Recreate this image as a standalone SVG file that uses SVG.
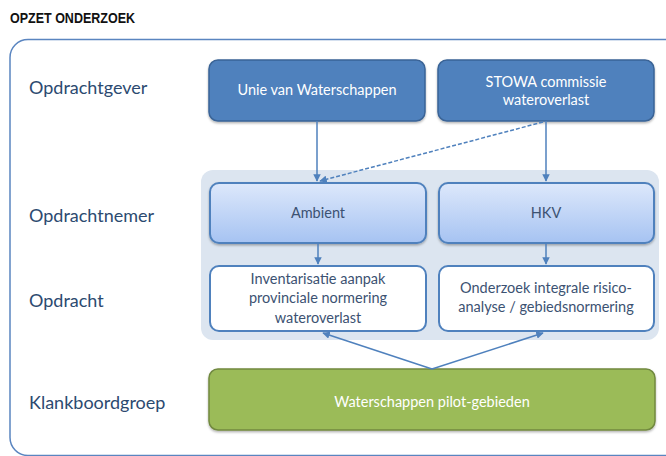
<svg xmlns="http://www.w3.org/2000/svg" width="666" height="456" viewBox="0 0 666 456">
<defs>
<style>
.lbl{font-family:"Lato","Open Sans","Liberation Sans",sans-serif;font-size:18px;fill:#2c4a70}
.wt{font-family:"Lato","Open Sans","Liberation Sans",sans-serif;font-size:14.5px;fill:#ffffff;text-anchor:middle}
.dt{font-family:"Lato","Open Sans","Liberation Sans",sans-serif;font-size:14.5px;fill:#3c5272;text-anchor:middle}
.blue{fill:#4f81bd;stroke:#3a6496;stroke-width:1.5}
.nemer{fill:url(#gradNemer);stroke:#4f81bd;stroke-width:2}
.opd{fill:#ffffff;stroke:#4f81bd;stroke-width:2}
.green{fill:#9bbb59;stroke:#71893f;stroke-width:1.5}
.con{stroke:#4f81bd;stroke-width:1.5;fill:none}
</style>
<linearGradient id="gradNemer" x1="0" y1="0" x2="0" y2="1">
<stop offset="0" stop-color="#dde8fb"/>
<stop offset="1" stop-color="#a6c3f2"/>
</linearGradient>
<filter id="sh" x="-5%" y="-10%" width="110%" height="130%">
<feDropShadow dx="0" dy="1.5" stdDeviation="1.2" flood-color="#000" flood-opacity="0.3"/>
</filter>
<marker id="arr" viewBox="0 0 10 10" refX="9" refY="5" markerWidth="5" markerHeight="5" orient="auto">
<path d="M0,0 L10,5 L0,10 z" fill="#4f81bd"/>
</marker>
</defs>
<rect width="666" height="456" fill="#ffffff"/>
<text x="10" y="22.5" font-family="'Liberation Sans',sans-serif" font-weight="bold" font-size="14" fill="#111" textLength="125" lengthAdjust="spacingAndGlyphs">OPZET ONDERZOEK</text>
<rect id="frame" x="10" y="39.5" width="720" height="416" rx="18" fill="none" stroke="#5a85c0" stroke-width="1.5"/>
<g id="labels">
<text class="lbl" x="29" y="94">Opdrachtgever</text>
<text class="lbl" x="29" y="222">Opdrachtnemer</text>
<text class="lbl" x="29" y="307">Opdracht</text>
<text class="lbl" x="29" y="409">Klankboordgroep</text>
</g>
<rect id="panel" x="201" y="170" width="458" height="170" rx="12" fill="#dce5f0"/>
<g id="unie">
<rect class="blue" filter="url(#sh)" x="209" y="60" width="216" height="61" rx="9"/>
<text class="wt" x="317" y="95">Unie van Waterschappen</text>
</g>
<g id="stowa">
<rect class="blue" filter="url(#sh)" x="438" y="60" width="216" height="61" rx="9"/>
<text class="wt" x="546" y="87">STOWA commissie</text>
<text class="wt" x="546" y="105">wateroverlast</text>
</g>
<g id="ambient">
<rect class="nemer" filter="url(#sh)" x="210" y="183" width="216" height="60" rx="9"/>
<text class="dt" x="318" y="218">Ambient</text>
</g>
<g id="hkv">
<rect class="nemer" filter="url(#sh)" x="439" y="183" width="215" height="60" rx="9"/>
<text class="dt" x="546" y="218">HKV</text>
</g>
<g id="inventarisatie">
<rect class="opd" x="210" y="266" width="216" height="65" rx="9"/>
<text class="dt" x="318" y="284">Inventarisatie aanpak</text>
<text class="dt" x="318" y="303">provinciale normering</text>
<text class="dt" x="318" y="323">wateroverlast</text>
</g>
<g id="onderzoek">
<rect class="opd" x="439" y="266" width="215" height="65" rx="9"/>
<text class="dt" x="546" y="293">Onderzoek integrale risico-</text>
<text class="dt" x="546" y="312">analyse / gebiedsnormering</text>
</g>
<g id="klankboord">
<rect class="green" filter="url(#sh)" x="209" y="369" width="446" height="61" rx="9"/>
<text class="wt" x="432" y="407">Waterschappen pilot-gebieden</text>
</g>
<g id="connectors">
<line class="con" x1="317" y1="121" x2="317" y2="181" marker-end="url(#arr)"/>
<line class="con" x1="546" y1="121" x2="546" y2="181" marker-end="url(#arr)"/>
<line class="con" x1="543" y1="122" x2="320" y2="181" stroke-dasharray="4,2" marker-end="url(#arr)"/>
<line class="con" x1="318" y1="243" x2="318" y2="264" marker-end="url(#arr)"/>
<line class="con" x1="546" y1="243" x2="546" y2="264" marker-end="url(#arr)"/>
<line class="con" x1="432" y1="369" x2="323" y2="333" marker-end="url(#arr)"/>
<line class="con" x1="432" y1="369" x2="543" y2="333" marker-end="url(#arr)"/>
</g>
</svg>
